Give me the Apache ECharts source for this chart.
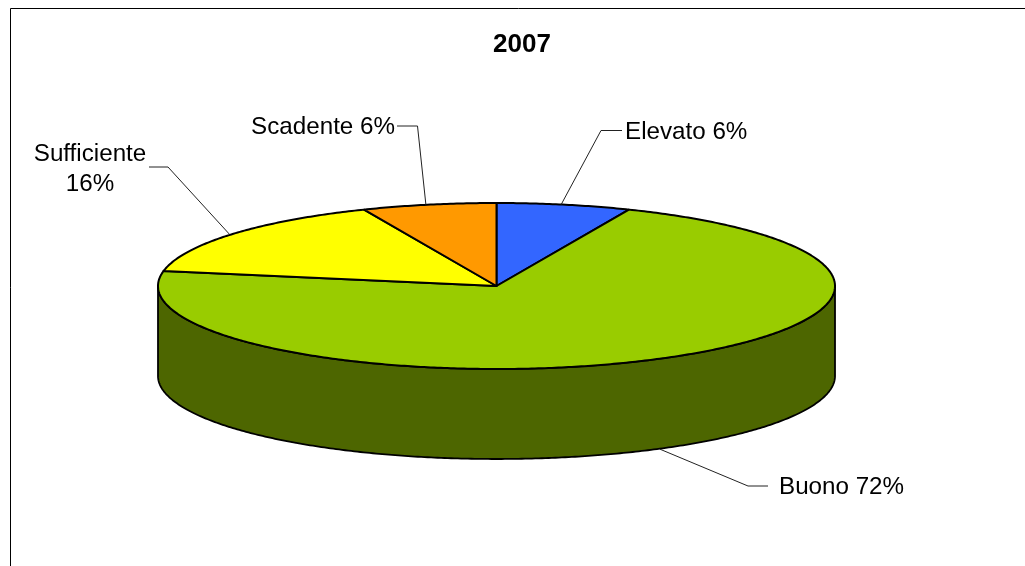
<!DOCTYPE html>
<html>
<head>
<meta charset="utf-8">
<style>html,body{margin:0;padding:0;background:#fff}#c{width:1025px;height:566px}</style>
<script src="https://cdn.jsdelivr.net/npm/echarts@6/dist/echarts.min.js"></script>
</head>
<body>
<div id="c"></div>
<script>
// Data (clockwise from 12 o'clock)
const chartTitle = '2007';
const categories = ['Elevato', 'Buono', 'Sufficiente', 'Scadente'];
const shares = [6.4, 71.5, 15.7, 6.4];
const shownPercents = [6, 72, 16, 6];
const topColors = ['#3366FF', '#99CC00', '#FFFF00', '#FF9900'];
const sideColors = ['#1A3380', '#4D6600', '#808000', '#804C00'];

// Layout of the pseudo-3D disc and of the callouts (pixels)
const FONT = '"Liberation Sans", Arial, sans-serif';
const RX = 338.5, RY = 83, DEPTH = 90;
const callouts = [
  {dx: -3, elbow: [601, 130.5], end: [622, 130.5], text: [625, 132], align: 'left', wrap: false},
  {dx: 3, elbow: [748, 486], end: [768, 486], text: [779, 487], align: 'left', wrap: false},
  {dx: -3, elbow: [168, 167], end: [149, 167], text: [90, 169], align: 'center', wrap: true},
  {dx: -3, elbow: [417.5, 126], end: [397, 126], text: [395, 127], align: 'right', wrap: false}
];

const total = shares.reduce((a, b) => a + b, 0);
let running = 0;
const rows = shares.map((v, i) => {
  const row = [i, running, running + v];
  running += v;
  return row;
});

function toAngle(share) { return share / total * 2 * Math.PI; }
function rim(api, a, drop) { return api.coord([RX * Math.sin(a), RY * Math.cos(a) - (drop || 0)]); }
function arc(api, a0, a1, drop) {
  const n = Math.max(2, Math.ceil((a1 - a0) / 0.01));
  const pts = [];
  for (let k = 0; k <= n; k++) pts.push(rim(api, a0 + (a1 - a0) * k / n, drop));
  return pts;
}

function renderWalls(params, api) {
  const i = api.value(0);
  const a0 = Math.max(toAngle(api.value(1)), Math.PI / 2);
  const a1 = Math.min(toAngle(api.value(2)), Math.PI * 1.5);
  if (a1 <= a0) return {type: 'group', children: []};
  const pts = arc(api, a0, a1, 0).concat(arc(api, a0, a1, DEPTH).reverse());
  return {type: 'polygon', shape: {points: pts},
    style: {fill: sideColors[i], stroke: '#000', lineWidth: 1.8, lineJoin: 'round'}};
}

function renderTops(params, api) {
  const i = api.value(0);
  const a0 = toAngle(api.value(1)), a1 = toAngle(api.value(2));
  const pts = [api.coord([0, 0])].concat(arc(api, a0, a1, 0));
  return {type: 'polygon', shape: {points: pts},
    style: {fill: topColors[i], stroke: '#000', lineWidth: 2, lineJoin: 'round'}};
}

function renderCallouts(params, api) {
  const i = api.value(0);
  const mid = (toAngle(api.value(1)) + toAngle(api.value(2))) / 2;
  const c = callouts[i];
  const front = Math.cos(mid) < 0;
  const p = rim(api, mid, front ? DEPTH : 0);
  const anchor = [p[0] + c.dx, p[1]];
  const label = c.wrap
    ? categories[i] + '\n' + shownPercents[i] + '%'
    : categories[i] + ' ' + shownPercents[i] + '%';
  return {type: 'group', children: [
    {type: 'polyline', shape: {points: [anchor, c.elbow, c.end]},
     style: {fill: null, stroke: '#222', lineWidth: 1}},
    {type: 'text', x: c.text[0], y: c.text[1],
     style: {text: label, font: '24.2px ' + FONT, lineHeight: 30, fill: '#000',
       align: c.align, verticalAlign: 'middle'}}
  ]};
}

const chart = echarts.init(document.getElementById('c'), null, {renderer: 'canvas'});
chart.setOption({
  animation: false,
  backgroundColor: '#fff',
  title: {
    text: chartTitle, left: 517, top: 27, textAlign: 'center',
    textStyle: {fontFamily: FONT, fontSize: 26, fontWeight: 'bold', color: '#000'}
  },
  graphic: [{
    type: 'rect', silent: true, z: 0,
    shape: {x: 10.5, y: 8.5, width: 1200, height: 800},
    style: {fill: 'transparent', stroke: '#000', lineWidth: 1}
  }],
  grid: {left: 158, width: 2 * RX, top: 203, height: 2 * RY + DEPTH, containLabel: false},
  xAxis: {type: 'value', min: -RX, max: RX, show: false},
  yAxis: {type: 'value', min: -RY - DEPTH, max: RY, show: false},
  series: [
    {type: 'custom', data: rows, renderItem: renderWalls, silent: true, z: 2, clip: false,
     encode: {x: 0, y: 1}},
    {type: 'custom', data: rows, renderItem: renderTops, silent: true, z: 3, clip: false,
     encode: {x: 0, y: 1}},
    {type: 'custom', data: rows, renderItem: renderCallouts, silent: true, z: 4, clip: false,
     encode: {x: 0, y: 1}}
  ]
});
</script>
</body>
</html>
